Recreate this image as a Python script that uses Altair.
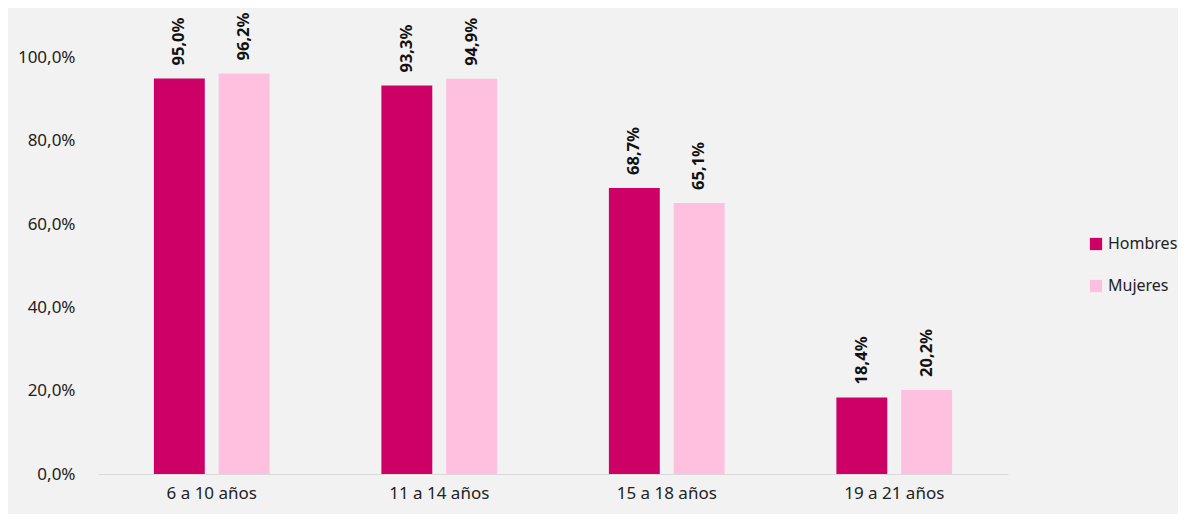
import altair as alt
import pandas as pd

categorias = ["6 a 10 años", "11 a 14 años", "15 a 18 años", "19 a 21 años"]
hombres = [0.950, 0.933, 0.687, 0.184]
mujeres = [0.962, 0.949, 0.651, 0.202]
series = ["Hombres", "Mujeres"]
colores = ["#CC0066", "#FFBFDF"]

rows = []
for i, c in enumerate(categorias):
    rows.append({"cat": c, "serie": "Hombres", "v": hombres[i]})
    rows.append({"cat": c, "serie": "Mujeres", "v": mujeres[i]})
df = pd.DataFrame(rows)
df["lab"] = df["v"].map(lambda v: f"{v*100:.1f}%".replace(".", ","))

FONT = "Noto Sans"

x = alt.X("cat:N", sort=categorias, title=None,
          scale=alt.Scale(paddingInner=0, paddingOuter=0),
          axis=alt.Axis(labelAngle=0, ticks=False, domainColor="#d9d9d9",
                        labelFontSize=17, labelColor="#222222", labelPadding=11,
                        labelFont=FONT))
xo = alt.XOffset("serie:N", sort=series,
                 scale=alt.Scale(paddingInner=0.215, paddingOuter=0.862))
y = alt.Y("v:Q", title=None,
          scale=alt.Scale(domain=[0, 1.1], nice=False),
          axis=alt.Axis(values=[0, 0.2, 0.4, 0.6, 0.8, 1.0], grid=False, domain=False,
                        ticks=False, labelFontSize=17, labelColor="#222222",
                        labelPadding=23, labelFont=FONT,
                        labelExpr="replace(format(datum.value, '.1%'), '.', ',')"))

bars = alt.Chart(df).mark_bar().encode(
    x=x, xOffset=xo, y=y,
    color=alt.Color("serie:N", sort=series, title=None,
                    scale=alt.Scale(domain=series, range=colores),
                    legend=alt.Legend(orient="none", legendX=990, legendY=220,
                                      symbolType="square", symbolSize=150,
                                      symbolStrokeWidth=0, labelFontSize=16,
                                      labelFont=FONT, labelColor="#222222",
                                      rowPadding=26, labelOffset=4)),
)

text = alt.Chart(df).mark_text(angle=270, align="left", baseline="middle", dx=13,
                               fontWeight="bold", fontSize=16.5, font=FONT,
                               color="#111111").encode(
    x=x, xOffset=xo, y=y, text="lab:N")

chart = (bars + text).properties(
    width=910, height=458,
    background="#f2f2f2",
    padding={"left": 90, "top": 8, "right": 170, "bottom": 40},
    autosize=alt.AutoSizeParams(type="none"),
).configure_view(stroke=None)

chart.save("out.html", embed_options={"renderer": "svg", "actions": False})
